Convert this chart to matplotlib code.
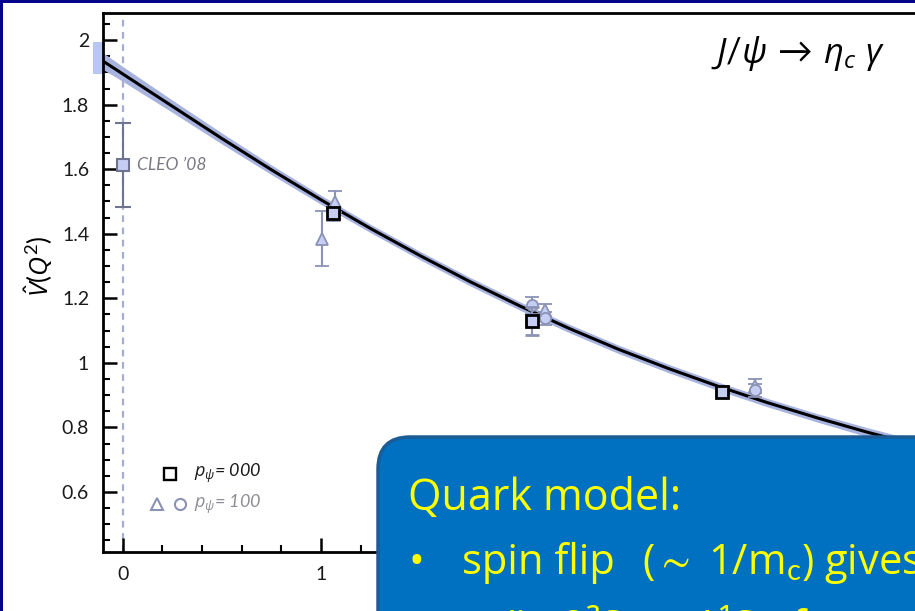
"""
jpsi_etac_formfactor.py — Form factor V-hat(Q^2) for J/psi -> eta_c gamma.

Lattice points at two psi momenta, the fitted curve with its error band,
the CLEO '08 measurement at Q^2 = 0 and the quark-model note box.
"""

import matplotlib
matplotlib.use("Agg")
import matplotlib.pyplot as plt
from matplotlib.patches import FancyBboxPatch, Rectangle
from matplotlib.ticker import MultipleLocator, FuncFormatter

# fitted curve and half-width of its error band
curve_q2 = [-0.1, 0.0, 0.25, 0.5, 0.75, 1.0, 1.25, 1.5, 1.75, 2.0, 2.25,
            2.5, 2.75, 3.0, 3.25, 3.5, 3.75, 4.0, 4.25, 4.5]
curve_v = [1.935, 1.895, 1.795, 1.695, 1.598, 1.505, 1.416, 1.332, 1.252,
           1.177, 1.107, 1.042, 0.983, 0.928, 0.877, 0.830, 0.786, 0.746,
           0.710, 0.677]
curve_err = [0.026, 0.023, 0.019, 0.017, 0.015, 0.014, 0.013, 0.013, 0.013,
             0.013, 0.013, 0.013, 0.013, 0.013, 0.013, 0.013, 0.014, 0.014,
             0.015, 0.015]

# extrapolated range at Q^2 = 0, drawn beside the axis
v0_lo, v0_hi = 1.894, 1.995

# p_psi = 000
p000_q2 = [1.06, 2.065, 3.02]
p000_v = [1.463, 1.129, 0.909]
p000_err = [0.02, 0.043, 0.008]

# p_psi = 100, two polarisations
p100_tri_q2 = [1.007, 1.07, 2.13, 3.19]
p100_tri_v = [1.385, 1.499, 1.163, 0.928]
p100_tri_err = [0.085, 0.033, 0.02, 0.022]

p100_circ_q2 = [2.065, 2.13, 3.19]
p100_circ_v = [1.178, 1.138, 0.915]
p100_circ_err = [0.026, 0.02, 0.02]

# CLEO '08 measurement
cleo_q2 = [0.0]
cleo_v = [1.612]
cleo_err = [0.13]

FIG_W, FIG_H = 915, 611
DARK = "#1a1a1a"
BAND = "#a9b3df"
PALE = "#c6cff3"
GREYBLUE = "#8a92b6"
YELLOW = "#ffff00"

plt.rcParams["font.family"] = ["Lato", "DejaVu Sans"]
plt.rcParams["mathtext.fontset"] = "custom"
plt.rcParams["mathtext.rm"] = "Lato"
plt.rcParams["mathtext.it"] = "Open Sans:italic"
plt.rcParams["mathtext.fallback"] = "stixsans"

fig = plt.figure(figsize=(FIG_W / 100, FIG_H / 100), dpi=100)
fig.patch.set_facecolor("white")

# axes: left spine at x=103px, bottom at y=552px, top at y=13px; runs off the right edge
ax = fig.add_axes([103 / FIG_W, (FIG_H - 552) / FIG_H, 1.0, (552 - 13) / FIG_H])
ax.set_xlim(-0.1, 4.515)
ax.set_ylim(0.414, 2.084)

ax.axvline(0, color="#a7adcf", lw=1.6, ls=(0, (3, 2.5)), zorder=1)

ax.fill_between(curve_q2, [v - e for v, e in zip(curve_v, curve_err)],
                [v + e for v, e in zip(curve_v, curve_err)],
                color=BAND, lw=0, zorder=2)
ax.plot(curve_q2, curve_v, color="black", lw=2.2, zorder=3)

ax.add_patch(Rectangle((-0.151, v0_lo), 0.051, v0_hi - v0_lo, color="#b9c5f2",
                       lw=0, clip_on=False, zorder=2))

ax.errorbar(p100_tri_q2, p100_tri_v, yerr=p100_tri_err, fmt="^", ms=8.5,
            mfc=PALE, mec=GREYBLUE, mew=1.3, ecolor=GREYBLUE, elinewidth=1.5,
            capsize=5, capthick=1.5, zorder=4)
ax.errorbar(p100_circ_q2, p100_circ_v, yerr=p100_circ_err, fmt="o", ms=8,
            mfc=PALE, mec=GREYBLUE, mew=1.3, ecolor=GREYBLUE, elinewidth=1.5,
            capsize=5, capthick=1.5, zorder=4)
ax.errorbar(p000_q2, p000_v, yerr=p000_err, fmt="s", ms=8,
            mfc=PALE, mec="black", mew=2.0, ecolor=GREYBLUE, elinewidth=1.5,
            capsize=5, capthick=1.5, zorder=5)
ax.errorbar(cleo_q2, cleo_v, yerr=cleo_err, fmt="s", ms=8.5,
            mfc=PALE, mec="#6e7492", mew=1.5, ecolor="#6e7492", elinewidth=1.5,
            capsize=6, capthick=1.5, zorder=5)
ax.text(0.069, cleo_v[0], "CLEO \u201908", style="italic", fontsize=12.5,
        color="#7a7a84", va="center", ha="left")

# hand-made key
ax.plot([0.236], [0.656], "s", ms=8.5, mfc="white", mec="black", mew=1.7)
ax.plot([0.172], [0.563], "^", ms=9, mfc="white", mec=GREYBLUE, mew=1.5)
ax.plot([0.288], [0.563], "o", ms=8, mfc="white", mec=GREYBLUE, mew=1.5)
ax.text(0.36, 0.656, r"$p_\psi$= 000", style="italic", fontsize=13,
        color=DARK, va="center")
ax.text(0.36, 0.563, r"$p_\psi$= 100", style="italic", fontsize=13,
        color="#8d8d98", va="center")

ax.text(885 / FIG_W - 103 / FIG_W, 0.907, r"$J/\psi\,\rightarrow\,\eta_c\ \gamma$",
        transform=ax.transAxes, fontsize=25, ha="right", va="baseline",
        color="black")

ax.set_ylabel(r"$\hat{V}(Q^2)$", fontsize=19)
ax.yaxis.set_label_coords(-0.052, 0.53)

for side in ("left", "bottom", "top"):
    ax.spines[side].set_linewidth(2.0)
ax.spines["right"].set_visible(False)

ax.xaxis.set_major_locator(MultipleLocator(1))
ax.xaxis.set_minor_locator(MultipleLocator(0.2))
ax.yaxis.set_major_locator(MultipleLocator(0.2))
ax.yaxis.set_minor_locator(MultipleLocator(0.05))
ax.yaxis.set_major_formatter(FuncFormatter(lambda v, _: f"{v:g}"))
ax.tick_params(which="both", direction="in", top=False, right=False,
               labelsize=14, labelcolor=DARK)
ax.tick_params(which="major", length=10, width=1.8, pad=10)
ax.tick_params(which="minor", length=5, width=1.5)

# slide frame along the top and left
fig.add_artist(Rectangle((0, FIG_H - 3), FIG_W, 3, transform=None,
                         color="#05058a", lw=0, zorder=10))
fig.add_artist(Rectangle((0, 0), 3, FIG_H, transform=None,
                         color="#05058a", lw=0, zorder=10))

# quark-model note box (inches, so the corners stay round)
inch = fig.dpi_scale_trans
box = FancyBboxPatch((3.78, -0.6), 7.0, 2.34, boxstyle="round,pad=0,rounding_size=0.32",
                     transform=inch, facecolor="#0070c0", edgecolor="#1b5c96",
                     lw=2.5, zorder=20)
fig.add_artist(box)
note_font = ["Open Sans", "DejaVu Sans"]
note_kw = dict(transform=inch, family=note_font, color=YELLOW, va="baseline", zorder=21)
fig.text(4.08, 1.01, "Quark model:", fontsize=31, **note_kw)
fig.text(4.08, 0.37, "\u2022", fontsize=30, **note_kw)
fig.text(4.62, 0.37, "spin flip", fontsize=30, **note_kw)
fig.text(6.42, 0.37, r"($\sim$ 1/m$_\mathrm{c}$) gives", fontsize=30, **note_kw)
fig.text(5.03, -0.29, "(in 2\u00b3S\u2081 \u2192 1\u00b9S\u2080  from", fontsize=30, **note_kw)

fig.savefig("out.png", dpi=100)
